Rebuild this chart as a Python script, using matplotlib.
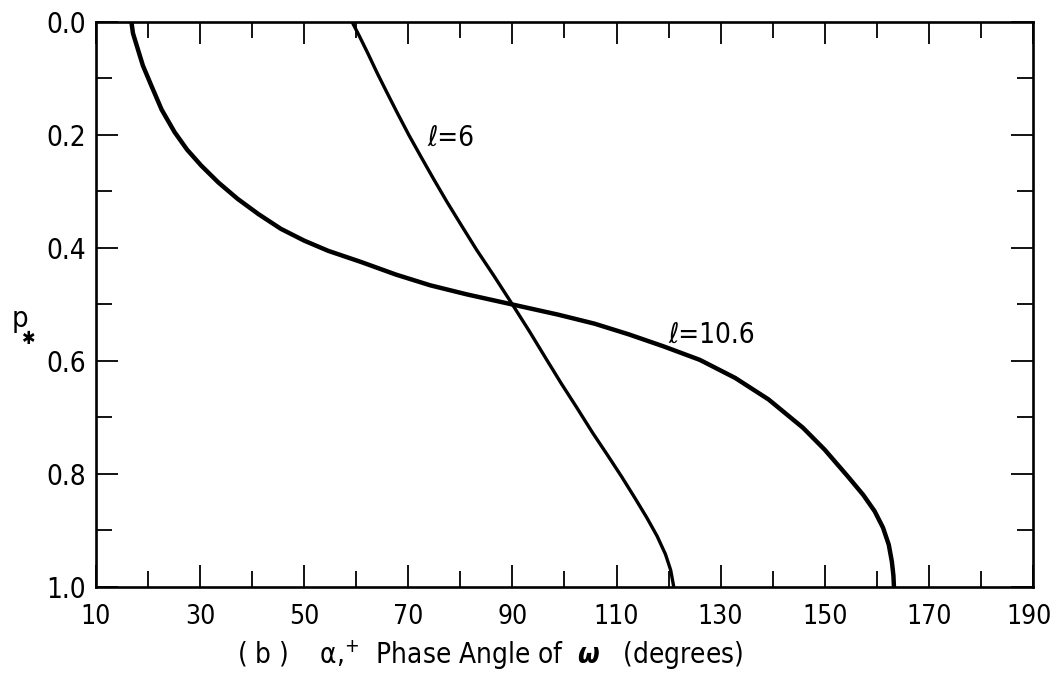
import numpy as np
import matplotlib
matplotlib.use("Agg")
import matplotlib.pyplot as plt
import matplotlib.transforms as mtransforms
from matplotlib.ticker import MultipleLocator

plt.rcParams['font.family'] = ['DejaVu Sans']
plt.rcParams['font.stretch'] = 'condensed'
plt.rcParams['mathtext.fontset'] = 'dejavusans'

# phase angle (deg) vs p* for the two curves
phase_l6 = [59.2, 60.6, 62.2, 64.0, 65.9, 68.0, 70.1, 72.4, 74.8, 77.4,
            80.2, 83.1, 86.5, 90.0, 93.3, 96.4, 99.4, 102.4, 105.4, 108.3,
            111.0, 113.5, 115.8, 117.8, 119.4, 120.4, 121.0]
p_l6 = [0.000, 0.025, 0.055, 0.090, 0.125, 0.163, 0.200, 0.238, 0.277, 0.318,
        0.360, 0.403, 0.450, 0.500, 0.548, 0.595, 0.640, 0.683, 0.727, 0.767,
        0.805, 0.842, 0.877, 0.910, 0.942, 0.970, 1.000]

phase_l106 = [16.8, 17.1, 17.8, 19.0, 20.6, 22.6, 25.1, 27.5, 30.2,
              33.5, 37.2, 41.2, 45.5, 50.0, 54.6, 61.0, 67.6, 74.2, 81.2,
              90.0, 98.8, 105.8, 112.4, 119.0, 126.0, 132.8, 139.2, 145.8, 150.0,
              154.5, 157.4, 159.6, 161.2, 162.3, 162.9, 163.2, 163.3]
p_l106 = [0.000, 0.020, 0.041, 0.077, 0.112, 0.155, 0.195, 0.226, 0.254,
          0.284, 0.313, 0.340, 0.366, 0.387, 0.405, 0.425, 0.447, 0.466, 0.482,
          0.500, 0.518, 0.534, 0.553, 0.574, 0.598, 0.630, 0.668, 0.718, 0.757,
          0.805, 0.837, 0.866, 0.895, 0.925, 0.955, 0.980, 1.000]

x_major = np.arange(10, 191, 20)
y_major = np.arange(0.0, 1.01, 0.2)

fig = plt.figure(figsize=(10.54, 6.79), dpi=100)
ax = fig.add_axes([0.0911, 0.1355, 0.8889, 0.8321])

ax.plot(phase_l106, p_l106, color='black', lw=3.2, solid_joinstyle='round')
ax.plot(phase_l6, p_l6, color='black', lw=2.4, solid_joinstyle='round')

ax.set_xlim(10, 190)
ax.set_ylim(1.0, 0.0)

ax.set_xticks(x_major)
ax.xaxis.set_minor_locator(MultipleLocator(10))
ax.set_yticks(y_major)
ax.yaxis.set_minor_locator(MultipleLocator(0.1))
ax.set_xticklabels([f"{v:d}" for v in x_major])
ax.set_yticklabels([f"{v:.1f}" for v in y_major])

ax.tick_params(which='both', direction='in', top=True, right=True,
               width=1.3, color='black', labelsize=20)
ax.tick_params(axis='x', labelsize=19)
ax.tick_params(which='major', length=15.5)
ax.tick_params(which='minor', length=11.5)
ax.tick_params(axis='x', which='major', pad=12)
ax.tick_params(axis='y', which='major', pad=7)

# nudge the last x label so it stays inside the figure
last = ax.get_xticklabels()[-1]
last.set_transform(last.get_transform() +
                   mtransforms.ScaledTranslation(-4 / 100, 0, fig.dpi_scale_trans))

for s in ax.spines.values():
    s.set_linewidth(1.9)

ax.text(73.6, 0.205, "ℓ=6", fontsize=20, ha='left', va='center')
ax.text(119.9, 0.554, "ℓ=10.6", fontsize=20, ha='left', va='center')

# y-axis label p*
fig.text(0.0114, 0.518, "p", fontsize=21, ha='left', va='baseline')
fig.text(0.0275, 0.5007, "✱", fontsize=13, ha='center', va='center',
         fontweight='bold')

fig.text(0.465, 0.035,
         r"( b )    α,$^{+}$  Phase Angle of  $\boldsymbol{\omega}$   (degrees)",
         fontsize=20, ha='center', va='center')

fig.savefig("out.png", dpi=100)
